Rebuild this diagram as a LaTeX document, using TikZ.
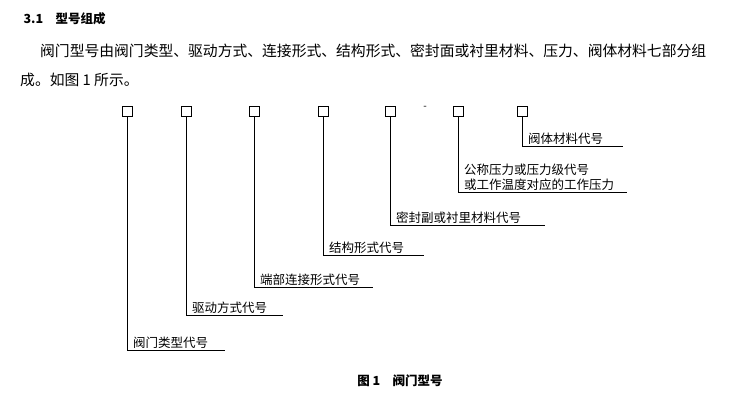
\documentclass[tikz,border=0pt]{standalone}
\usepackage{fontspec}
\setmainfont{Noto Sans CJK SC}
\usetikzlibrary{positioning}
\tikzset{
  digit/.style={draw, thick, minimum size=10pt, inner sep=0pt},
  lbl/.style={font=\fontsize{12.5}{15}\selectfont, anchor=south west, inner sep=1pt},
  lead/.style={thin}
}
\begin{document}
\begin{tikzpicture}[x=1pt,y=-1pt]
\useasboundingbox (0,0) rectangle (737,418);
% heading and text
\node[anchor=west, font=\bfseries\fontsize{12.5}{15}\selectfont] (head) at (20,19) {3.1\quad 型号组成};
\node[anchor=west, font=\fontsize{14.8}{18}\selectfont, inner sep=0pt] (par1) at (40,51) {阀门型号由阀门类型、驱动方式、连接形式、结构形式、密封面或衬里材料、压力、阀体材料七部分组};
\node[anchor=west, font=\fontsize{14.8}{18}\selectfont, inner sep=0pt] (par2) at (20,80) {成。如图 1 所示。};

% boxes
\node[digit] (b1) at (127,111) {};
\node[digit] (b2) at (186,111) {};
\node[digit] (b3) at (254,111) {};
\node[digit] (b4) at (323,111) {};
\node[digit] (b5) at (390,111) {};
\node (dash) at (425,108) {-};
\node[digit] (b6) at (458,111) {};
\node[digit] (b7) at (522,111) {};

% leaders
\coordinate (c1) at (127,350); \coordinate (e1) at (225,350);
\coordinate (c2) at (186,315); \coordinate (e2) at (283,315);
\coordinate (c3) at (254,287); \coordinate (e3) at (373,287);
\coordinate (c4) at (323,255); \coordinate (e4) at (424,255);
\coordinate (c5) at (390,225); \coordinate (e5) at (545,225);
\coordinate (c6) at (458,192); \coordinate (e6) at (627,192);
\coordinate (c7) at (522,146); \coordinate (e7) at (623,146);
\foreach \i in {1,...,7}
  \draw[lead] (b\i.south) -- (c\i) -- (e\i);

\node[lbl] (l1) at ([xshift=5pt]c1) {阀门类型代号};
\node[lbl] (l2) at ([xshift=5pt]c2) {驱动方式代号};
\node[lbl] (l3) at ([xshift=5pt]c3) {端部连接形式代号};
\node[lbl] (l4) at ([xshift=5pt]c4) {结构形式代号};
\node[lbl] (l5) at ([xshift=5pt]c5) {密封副或衬里材料代号};
\node[lbl, align=left] (l6) at ([xshift=5pt]c6) {公称压力或压力级代号\\或工作温度对应的工作压力};
\node[lbl] (l7) at ([xshift=5pt]c7) {阀体材料代号};

% caption
\node[font=\bfseries\fontsize{12.5}{15}\selectfont] (cap) at (400,381) {图 1\quad 阀门型号};
\end{tikzpicture}
\end{document}
